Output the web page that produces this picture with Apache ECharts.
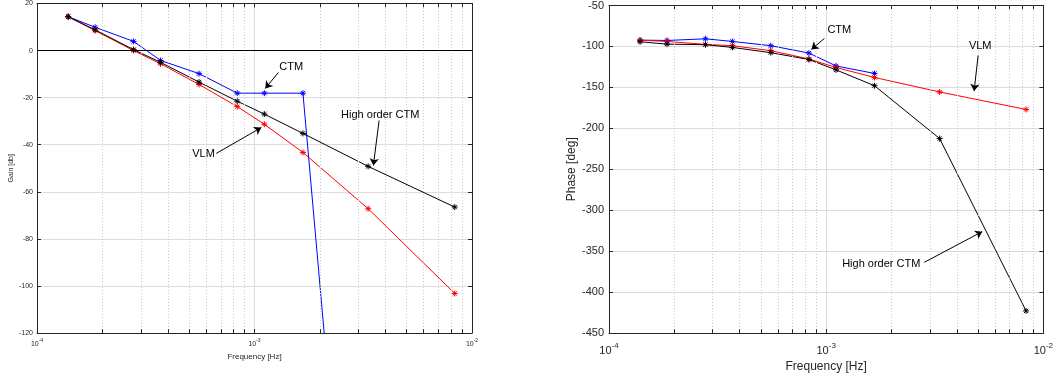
<!DOCTYPE html>
<html style="height: 100%">
<head>
  <meta charset="utf-8">
  <title>Gain / Phase</title>
</head>
<body style="height: 100%; margin: 0; background: #fff">
  <div id="container" style="width: 1056px; height: 379px"></div>
  <script src="https://cdn.jsdelivr.net/npm/echarts@6.0.0/dist/echarts.min.js"></script>
  <script>
    // frequencies [Hz]
    const freq = [1.39e-4, 1.85e-4, 2.78e-4, 3.7e-4, 5.56e-4, 8.33e-4, 1.11e-3, 1.67e-3, 3.33e-3, 8.33e-3];

    // gain [db]
    const gainCTM = [14.4, 9.9, 3.9, -4.2, -9.8, -18.1, -18.1, -18.1, -331];
    const gainVLM = [14.4, 8.5, 0.0, -5.6, -14.4, -23.8, -31.3, -43.3, -67.2, -103.2];
    const gainHigh = [14.4, 8.8, 0.4, -5.0, -13.4, -21.5, -27.0, -35.2, -49.2, -66.5];

    // phase [deg]
    const phaseCTM = [-92.3, -92.7, -90.7, -93.9, -99.1, -108.1, -123.8, -133.0];
    const phaseVLM = [-92.3, -93.9, -97.5, -99.1, -105.2, -115.3, -125.7, -137.9, -155.6, -177.0];
    const phaseHigh = [-94.3, -97.2, -97.9, -101.2, -107.6, -116.0, -128.6, -148.0, -212.5, -423.0];

    // minor log positions
    const minorFreq = [2e-4, 3e-4, 4e-4, 5e-4, 6e-4, 7e-4, 8e-4, 9e-4,
                       2e-3, 3e-3, 4e-3, 5e-3, 6e-3, 7e-3, 8e-3, 9e-3];

    // annotations: text [freq, value], arrow from / to
    const gainNotes = [
      { text: 'CTM', at: [1.476e-3, -6.8], from: [1.287e-3, -9.3], to: [1.121e-3, -16.1] },
      { text: 'High order CTM', at: [3.785e-3, -27.2], from: [3.74e-3, -29.7], to: [3.52e-3, -48.8] },
      { text: 'VLM', at: [5.83e-4, -44.1], from: [6.67e-4, -43.7], to: [1.075e-3, -32.7] }
    ];
    const phaseNotes = [
      { text: 'CTM', at: [1.15e-3, -79.4], from: [9.81e-4, -90.3], to: [8.55e-4, -103.6] },
      { text: 'VLM', at: [5.12e-3, -100], from: [5.01e-3, -110.9], to: [4.8e-3, -154.4] },
      { text: 'High order CTM', at: [1.794e-3, -366.1], from: [2.83e-3, -363.7], to: [5.23e-3, -326.2] }
    ];

    const axisColor = '#262626';
    const font = 'Liberation Sans, Arial, sans-serif';
    const star = 'path://M0,-5L0,5M-5,0L5,0M-3.5,-3.5L3.5,3.5M-3.5,3.5L3.5,-3.5';

    function pairs(ys) {
      return ys.map((v, i) => [freq[i], v]);
    }

    function expLabel(small) {
      return {
        color: axisColor,
        fontFamily: font,
        margin: small ? 4 : 6,
        formatter: v => '{b|10}{s|' + Math.round(Math.log10(v)) + '}',
        rich: {
          b: { fontSize: small ? 7 : 11, fontFamily: font, color: axisColor, padding: [small ? 4 : 6, 0, 0, 0] },
          s: { fontSize: small ? 5 : 8, fontFamily: font, color: axisColor, padding: [0, 0, small ? 3 : 4, 0] }
        }
      };
    }

    function xAxes(gi, small, nameGap) {
      const base = {
        type: 'log', logBase: 10, min: 1e-4, max: 1e-2, gridIndex: gi,
        axisLine: { show: true, onZero: false, lineStyle: { color: axisColor, width: 1 } },
        axisTick: { show: true, inside: true, length: 4, lineStyle: { color: axisColor } },
        splitLine: { show: true, lineStyle: { color: '#dcdcdc', width: 1 } }
      };
      return [
        Object.assign({}, base, {
          position: 'bottom',
          name: 'Frequency [Hz]', nameLocation: 'middle', nameGap: nameGap,
          nameTextStyle: { color: axisColor, fontFamily: font, fontSize: small ? 8 : 12 },
          axisLabel: expLabel(small)
        }),
        Object.assign({}, base, {
          position: 'top', axisLabel: { show: false }, splitLine: { show: false }
        })
      ];
    }

    function yAxes(gi, min, max, interval, name, small, nameGap) {
      const base = {
        type: 'value', min: min, max: max, interval: interval, gridIndex: gi,
        axisLine: { show: true, onZero: false, lineStyle: { color: axisColor, width: 1 } },
        axisTick: { show: true, inside: true, length: 4, lineStyle: { color: axisColor } }
      };
      return [
        Object.assign({}, base, {
          position: 'left',
          name: name, nameLocation: 'middle', nameGap: nameGap, nameRotate: 90,
          nameTextStyle: { color: axisColor, fontFamily: font, fontSize: small ? 7 : 12 },
          axisLabel: { color: axisColor, fontFamily: font, fontSize: small ? 7 : 11, margin: small ? 4 : 5 },
          splitLine: { show: true, lineStyle: { color: '#dcdcdc', width: 1 } }
        }),
        Object.assign({}, base, {
          position: 'right', axisLabel: { show: false }, splitLine: { show: false }
        })
      ];
    }

    // minor grid lines and minor ticks (bottom and top), through the axis scale
    function minorMarks(ymin, ymax, tick) {
      const data = minorFreq.map(f => [
        { coord: [f, ymin], lineStyle: { type: [1, 2], color: '#cccccc', width: 1 } },
        { coord: [f, ymax] }
      ]);
      minorFreq.forEach(f => {
        data.push([{ coord: [f, ymin] }, { coord: [f, ymin + tick] }]);
        data.push([{ coord: [f, ymax] }, { coord: [f, ymax - tick] }]);
      });
      return {
        silent: true, symbol: ['none', 'none'], animation: false,
        label: { show: false },
        lineStyle: { type: 'solid', color: axisColor, width: 1 },
        data: data
      };
    }

    function helper(gi, ymin, ymax, tick, extra) {
      const ml = minorMarks(ymin, ymax, tick);
      if (extra) ml.data = ml.data.concat(extra);
      return {
        type: 'line', xAxisIndex: gi * 2, yAxisIndex: gi * 2, data: [], z: 1,
        markLine: ml
      };
    }

    function curve(gi, ys, color) {
      return {
        type: 'line', xAxisIndex: gi * 2, yAxisIndex: gi * 2, data: pairs(ys), z: 3,
        symbol: star, symbolSize: 6, showAllSymbol: true,
        lineStyle: { color: color, width: 1 },
        itemStyle: { color: color, borderColor: color, borderWidth: 1 },
        animation: false, clip: true
      };
    }

    function notes(gi, list) {
      return {
        type: 'line', xAxisIndex: gi * 2, yAxisIndex: gi * 2, data: [], z: 4,
        markPoint: {
          symbol: 'circle', symbolSize: 0, animation: false,
          label: { show: true, formatter: '{b}', color: '#000', fontFamily: font, fontSize: 11, position: 'inside' },
          data: list.map(n => ({ name: n.text, coord: n.at }))
        },
        markLine: {
          symbol: ['none', 'arrow'], symbolSize: 7, animation: false, silent: true,
          label: { show: false },
          lineStyle: { type: 'solid', color: '#000', width: 1 },
          data: list.map(n => [{ coord: n.from }, { coord: n.to }])
        }
      };
    }

    const chart = echarts.init(document.getElementById('container'), null, { renderer: 'canvas' });

    const zeroLine = { yAxis: 0, lineStyle: { type: 'solid', color: '#000', width: 1.2 } };

    chart.setOption({
      animation: false,
      backgroundColor: '#fff',
      grid: [
        { left: 37, top: 3, width: 435, height: 330 },
        { left: 609, top: 3, width: 435, height: 330 }
      ],
      xAxis: xAxes(0, true, 16).concat(xAxes(1, false, 22)),
      yAxis: yAxes(0, -120, 20, 20, 'Gain [db]', true, 22).concat(yAxes(1, -450, -50, 50, 'Phase [deg]', false, 30)),
      series: [
        helper(0, -120, 20, 1.6, [zeroLine]),
        helper(1, -450, -50, 4.5),
        curve(0, gainCTM, '#0000ff'),
        curve(0, gainVLM, '#ff0000'),
        curve(0, gainHigh, '#000000'),
        curve(1, phaseCTM, '#0000ff'),
        curve(1, phaseVLM, '#ff0000'),
        curve(1, phaseHigh, '#000000'),
        notes(0, gainNotes),
        notes(1, phaseNotes)
      ]
    });
  </script>
</body>
</html>
